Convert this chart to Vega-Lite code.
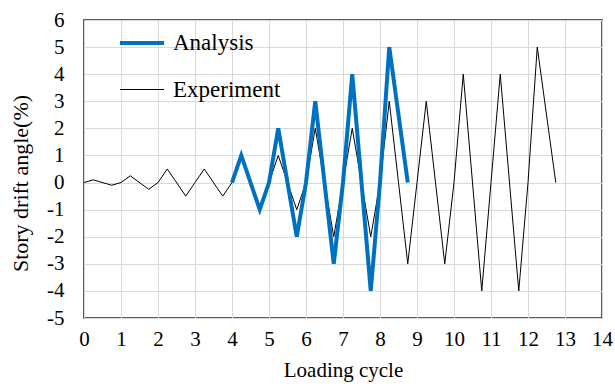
{
  "$schema": "https://vega.github.io/schema/vega-lite/v6.json",
  "width": 518,
  "height": 298,
  "autosize": "none",
  "padding": {"left": 84, "top": 20, "right": 13, "bottom": 74},
  "background": "white",
  "config": {
    "font": "Liberation Serif",
    "view": {"stroke": "#262626", "strokeWidth": 1.5},
    "axis": {
      "domain": false,
      "ticks": false,
      "grid": true,
      "gridColor": "#d9d9d9",
      "gridWidth": 1,
      "labelFlush": false,
      "labelFont": "Liberation Serif",
      "labelFontSize": 21,
      "labelColor": "#000000",
      "titleFont": "Liberation Serif",
      "titleFontSize": 21,
      "titleFontWeight": "normal",
      "titleColor": "#000000"
    },
    "legend": {
      "labelFont": "Liberation Serif",
      "labelFontSize": 23,
      "labelColor": "#000000"
    }
  },
  "data": {
    "values": [
      {"series": "Experiment", "cycle": 0, "drift": 0},
      {"series": "Experiment", "cycle": 0.25, "drift": 0.1},
      {"series": "Experiment", "cycle": 0.75, "drift": -0.1},
      {"series": "Experiment", "cycle": 1, "drift": 0},
      {"series": "Experiment", "cycle": 1.25, "drift": 0.25},
      {"series": "Experiment", "cycle": 1.75, "drift": -0.25},
      {"series": "Experiment", "cycle": 2, "drift": 0},
      {"series": "Experiment", "cycle": 2.25, "drift": 0.5},
      {"series": "Experiment", "cycle": 2.75, "drift": -0.5},
      {"series": "Experiment", "cycle": 3, "drift": 0},
      {"series": "Experiment", "cycle": 3.25, "drift": 0.5},
      {"series": "Experiment", "cycle": 3.75, "drift": -0.5},
      {"series": "Experiment", "cycle": 4, "drift": 0},
      {"series": "Experiment", "cycle": 4.25, "drift": 1},
      {"series": "Experiment", "cycle": 4.75, "drift": -1},
      {"series": "Experiment", "cycle": 5, "drift": 0},
      {"series": "Experiment", "cycle": 5.25, "drift": 1},
      {"series": "Experiment", "cycle": 5.75, "drift": -1},
      {"series": "Experiment", "cycle": 6, "drift": 0},
      {"series": "Experiment", "cycle": 6.25, "drift": 2},
      {"series": "Experiment", "cycle": 6.75, "drift": -2},
      {"series": "Experiment", "cycle": 7, "drift": 0},
      {"series": "Experiment", "cycle": 7.25, "drift": 2},
      {"series": "Experiment", "cycle": 7.75, "drift": -2},
      {"series": "Experiment", "cycle": 8, "drift": 0},
      {"series": "Experiment", "cycle": 8.25, "drift": 3},
      {"series": "Experiment", "cycle": 8.75, "drift": -3},
      {"series": "Experiment", "cycle": 9, "drift": 0},
      {"series": "Experiment", "cycle": 9.25, "drift": 3},
      {"series": "Experiment", "cycle": 9.75, "drift": -3},
      {"series": "Experiment", "cycle": 10, "drift": 0},
      {"series": "Experiment", "cycle": 10.25, "drift": 4},
      {"series": "Experiment", "cycle": 10.75, "drift": -4},
      {"series": "Experiment", "cycle": 11, "drift": 0},
      {"series": "Experiment", "cycle": 11.25, "drift": 4},
      {"series": "Experiment", "cycle": 11.75, "drift": -4},
      {"series": "Experiment", "cycle": 12, "drift": 0},
      {"series": "Experiment", "cycle": 12.25, "drift": 5},
      {"series": "Experiment", "cycle": 12.75, "drift": 0},
      {"series": "Analysis", "cycle": 4, "drift": 0},
      {"series": "Analysis", "cycle": 4.25, "drift": 1},
      {"series": "Analysis", "cycle": 4.75, "drift": -1},
      {"series": "Analysis", "cycle": 5, "drift": 0},
      {"series": "Analysis", "cycle": 5.25, "drift": 2},
      {"series": "Analysis", "cycle": 5.75, "drift": -2},
      {"series": "Analysis", "cycle": 6, "drift": 0},
      {"series": "Analysis", "cycle": 6.25, "drift": 3},
      {"series": "Analysis", "cycle": 6.75, "drift": -3},
      {"series": "Analysis", "cycle": 7, "drift": 0},
      {"series": "Analysis", "cycle": 7.25, "drift": 4},
      {"series": "Analysis", "cycle": 7.75, "drift": -4},
      {"series": "Analysis", "cycle": 8, "drift": 0},
      {"series": "Analysis", "cycle": 8.25, "drift": 5},
      {"series": "Analysis", "cycle": 8.75, "drift": 0}
    ]
  },
  "encoding": {
    "x": {
      "field": "cycle",
      "type": "quantitative",
      "scale": {"domain": [0, 14], "nice": false},
      "axis": {
        "values": [0, 1, 2, 3, 4, 5, 6, 7, 8, 9, 10, 11, 12, 13, 14],
        "title": "Loading cycle",
        "labelPadding": 10,
        "titlePadding": 10
      }
    },
    "y": {
      "field": "drift",
      "type": "quantitative",
      "scale": {"domain": [-5, 6], "nice": false},
      "axis": {
        "values": [-5, -4, -3, -2, -1, 0, 1, 2, 3, 4, 5, 6],
        "labelExpr": "'' + datum.value",
        "title": "Story drift angle(%)",
        "labelPadding": 20,
        "titlePadding": 14,
        "titleY": 163,
        "titleFontSize": 22
      }
    },
    "color": {
      "field": "series",
      "type": "nominal",
      "scale": {"domain": ["Analysis", "Experiment"], "range": ["#0070C0", "#000000"]},
      "legend": {
        "title": null,
        "orient": "none",
        "legendX": 34,
        "legendY": -1,
        "padding": 0,
        "symbolType": "stroke",
        "symbolSize": 1936,
        "labelOffset": 7,
        "rowPadding": 12
      }
    },
    "strokeWidth": {
      "field": "series",
      "type": "nominal",
      "scale": {"domain": ["Analysis", "Experiment"], "range": [4, 1]},
      "legend": {
        "title": null,
        "orient": "none",
        "legendX": 34,
        "legendY": -1,
        "padding": 0,
        "symbolType": "stroke",
        "symbolSize": 1936,
        "labelOffset": 7,
        "rowPadding": 12
      }
    }
  },
  "layer": [
    {
      "transform": [{"filter": "datum.series === 'Experiment'"}],
      "mark": {"type": "line", "clip": true}
    },
    {
      "transform": [{"filter": "datum.series === 'Analysis'"}],
      "mark": {"type": "line", "clip": true, "strokeJoin": "miter"}
    }
  ]
}
